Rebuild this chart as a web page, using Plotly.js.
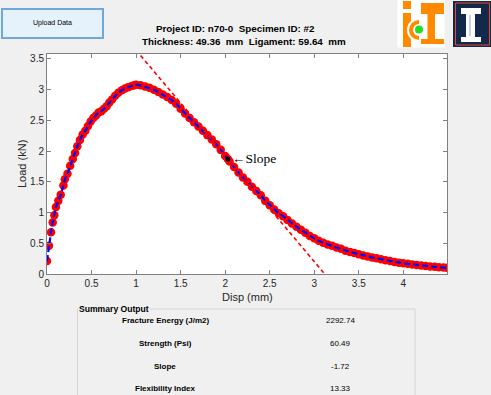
<!DOCTYPE html>
<html>
<head>
<meta charset="utf-8">
<script src="https://cdn.plot.ly/plotly-3.0.1.min.js"></script>
<style>html,body{margin:0;padding:0;background:#f0f0f0;}#chart{width:491px;height:395px;}</style>
</head>
<body>
<div id="chart"></div>
<script>
// ---- data ----
const dispMm = [0, 0.022, 0.045, 0.064, 0.082, 0.10, 0.127, 0.154, 0.184, 0.20, 0.23, 0.26, 0.29, 0.315, 0.34, 0.37, 0.40, 0.43, 0.46, 0.49, 0.52, 0.55, 0.58, 0.61, 0.64, 0.67, 0.70, 0.73, 0.765, 0.80, 0.84, 0.876, 0.91, 0.95, 0.98,
  1.0, 1.05, 1.1, 1.15, 1.2, 1.25, 1.3, 1.35, 1.4, 1.45, 1.5, 1.55, 1.6, 1.65, 1.7, 1.75, 1.8, 1.85, 1.9, 1.95, 2.0, 2.03, 2.05, 2.1, 2.15, 2.2, 2.25, 2.3, 2.35, 2.4, 2.45, 2.5, 2.55, 2.6, 2.65, 2.7, 2.75, 2.8, 2.85, 2.9, 2.95,
  3.0, 3.05, 3.1, 3.15, 3.2, 3.25, 3.3, 3.35, 3.4, 3.45, 3.5, 3.55, 3.6, 3.65, 3.7, 3.75, 3.8, 3.85, 3.9, 3.95, 4.0, 4.05, 4.1, 4.15, 4.2, 4.25, 4.3, 4.35, 4.4, 4.45, 4.49];
const loadKn = [0.21, 0.46, 0.68, 0.84, 0.955, 1.09, 1.19, 1.29, 1.44, 1.54, 1.63, 1.76, 1.87, 1.97, 2.08, 2.18, 2.27, 2.33, 2.41, 2.48, 2.54, 2.58, 2.63, 2.65, 2.69, 2.73, 2.79, 2.84, 2.90, 2.95, 2.99, 3.02, 3.04, 3.06, 3.07,
  3.08, 3.07, 3.05, 3.03, 3.00, 2.96, 2.92, 2.88, 2.83, 2.77, 2.69, 2.61, 2.54, 2.47, 2.40, 2.33, 2.26, 2.19, 2.11, 2.02, 1.92, 1.87, 1.83, 1.74, 1.65, 1.57, 1.50, 1.42, 1.35, 1.28, 1.19, 1.12, 1.05, 0.99, 0.94, 0.88, 0.82, 0.77, 0.72, 0.67, 0.62,
  0.58, 0.54, 0.51, 0.48, 0.46, 0.43, 0.41, 0.38, 0.36, 0.34, 0.32, 0.30, 0.285, 0.27, 0.255, 0.24, 0.225, 0.21, 0.195, 0.185, 0.175, 0.165, 0.155, 0.145, 0.137, 0.13, 0.123, 0.117, 0.11, 0.105, 0.10];
const slopePointX = [2.03];
const slopePointY = [1.87];
const slopeValue = -1.72;
const tangentX = [1.0, 3.12];
const xTickVals = [0, 0.5, 1, 1.5, 2, 2.5, 3, 3.5, 4];
const xTickText = ['0', '0.5', '1', '1.5', '2', '2.5', '3', '3.5', '4'];
const yTickVals = [0, 0.5, 1, 1.5, 2, 2.5, 3, 3.5];
const yTickText = ['0', '0.5', '1', '1.5', '2', '2.5', '3', '3.5'];
const xTitle = 'Disp (mm)';
const yTitle = 'Load (kN)';
const titleLine1 = 'Project ID: n70-0  Specimen ID: #2';
const titleLine2 = 'Thickness: 49.36  mm  Ligament: 59.64  mm';
const summaryLabels = ['Fracture Energy (J/m2)', 'Strength (Psi)', 'Slope', 'Flexibility Index'];
const summaryValues = ['2292.74', '60.49', '-1.72', '13.33'];

// tangent line through the slope point
const tangentY = tangentX.map(x => slopePointY[0] + slopeValue * (x - slopePointX[0]));

// ---- layout geometry (pixels) ----
const W = 491, H = 395;
const L = 47, R = 447, T = 54, B = 274;
const px = v => (v - L) / (R - L);
const py = v => (B - v) / (B - T);

const font = 'Liberation Sans, Arial, sans-serif';
const shapes = [];
const annotations = [];

function rect(x0, y0, x1, y1, fill, line, lw) {
  shapes.push({type: 'rect', xref: 'paper', yref: 'paper', x0: px(x0), x1: px(x1), y0: py(y1), y1: py(y0),
    fillcolor: fill, line: {color: line || fill, width: lw == null ? 0 : lw}, layer: 'above'});
}
function circle(cx, cy, r, fill) {
  shapes.push({type: 'circle', xref: 'paper', yref: 'paper', x0: px(cx - r), x1: px(cx + r), y0: py(cy + r), y1: py(cy - r),
    fillcolor: fill, line: {width: 0}, layer: 'above'});
}
function text(t, x, y, size, opts) {
  annotations.push(Object.assign({text: t, xref: 'paper', yref: 'paper', x: px(x), y: py(y), showarrow: false,
    xanchor: 'center', yanchor: 'middle', font: {family: font, size: size, color: '#000'}}, opts || {}));
}

// Upload button
rect(2, 9, 103, 38, '#e5f1fb', '#6fa8dc', 2);
text('Upload Data', 52.5, 23.5, 7);

// Title lines
text('<b>' + titleLine1 + '</b>', 235, 28, 9.8);
text('<b>' + titleLine2 + '</b>', 244, 41, 9.8);

// axis titles
text(xTitle, 247, 297, 11, {font: {family: font, size: 11, color: '#262626'}});
text(yTitle, 22, 164, 11, {textangle: -90, font: {family: font, size: 11, color: '#262626'}});

// ICT logo
const org = '#ff8a00';
rect(397.5, 0, 444.5, 47.5, '#ffffff');
rect(403, 1, 411, 9, org);
rect(403, 13, 411, 47, org);
circle(419, 30, 12, '#ffffff');
circle(419, 30, 10, org);
circle(419, 30, 6, '#ffffff');
rect(419, 17, 431, 44, '#ffffff');
rect(421, 3, 444, 14, org);
rect(427.5, 14, 435, 40, org);
rect(421, 39, 444, 44, org);
circle(419, 29.5, 4, '#22dd22');

// UIUC logo
rect(453, 1, 491, 47, '#13294b');
rect(455.5, 3, 489.5, 45, '#13294b', '#e84a27', 1);
rect(461, 8, 481, 14, '#ffffff');
rect(466, 14, 475, 37, '#ffffff');
rect(469, 15, 471, 36, '#c9d3e0');
rect(461, 37, 481, 42, '#ffffff');

// Summary panel
rect(77.5, 309, 415, 400, 'rgba(0,0,0,0)', '#d4d4d4', 1);
text('<b>Summary Output</b>', 78, 308.5, 8.6, {xanchor: 'left', bgcolor: '#f0f0f0', borderpad: 0});
const rowY = [320, 343, 366.5, 388.5];
summaryLabels.forEach((s, i) => {
  text('<b>' + s + '</b>', 165, rowY[i], 8);
  text(summaryValues[i], 340, rowY[i], 8);
});

// Slope label
annotations.push({text: '\u2190Slope', x: slopePointX[0], y: slopePointY[0], xref: 'x', yref: 'y', showarrow: false,
  xanchor: 'left', yanchor: 'middle', xshift: 2, yshift: 1, font: {family: 'Liberation Serif, Times New Roman, serif', size: 13.5, color: '#000'}});

const traces = [
  {x: dispMm, y: loadKn, mode: 'markers', type: 'scatter', marker: {color: '#ff0000', size: 8.5, line: {width: 0}}, hoverinfo: 'skip'},
  {x: dispMm, y: loadKn, mode: 'lines', type: 'scatter', line: {color: '#0000ff', width: 2.2, dash: '6px,3px'}, hoverinfo: 'skip'},
  {x: tangentX, y: tangentY, mode: 'lines', type: 'scatter', line: {color: '#ff0000', width: 1.6, dash: '4px,3px'}, hoverinfo: 'skip'},
  {x: slopePointX, y: slopePointY, mode: 'markers', type: 'scatter', marker: {color: '#000000', size: 5}, hoverinfo: 'skip'}
];

const axisCommon = {
  showline: true, linecolor: '#808080', linewidth: 1, mirror: 'ticks', ticks: 'inside', ticklen: 4, tickcolor: '#808080',
  showgrid: false, zeroline: false, tickfont: {family: font, size: 10, color: '#262626'}, fixedrange: true
};

const layout = {
  width: W, height: H,
  margin: {l: L, r: W - R, t: T, b: H - B, pad: 0},
  paper_bgcolor: '#f0f0f0', plot_bgcolor: '#ffffff',
  showlegend: false,
  xaxis: Object.assign({}, axisCommon, {range: [0, 4.49], tickmode: 'array', tickvals: xTickVals, ticktext: xTickText}),
  yaxis: Object.assign({}, axisCommon, {range: [0, 3.58], tickmode: 'array', tickvals: yTickVals, ticktext: yTickText}),
  shapes: shapes,
  annotations: annotations
};

Plotly.newPlot('chart', traces, layout, {displayModeBar: false, staticPlot: true});
</script>
</body>
</html>
